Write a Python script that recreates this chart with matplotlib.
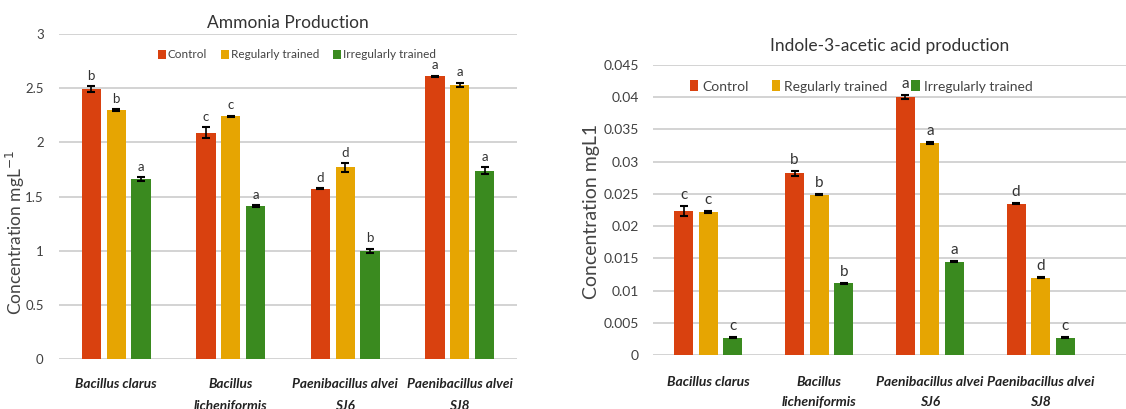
import numpy as np
import matplotlib
matplotlib.use("Agg")
import matplotlib.pyplot as plt

plt.rcParams['font.family'] = ['Lato', 'DejaVu Sans']

strains = ['Bacillus clarus', 'Bacillus\nlicheniformis',
           'Paenibacillus alvei\nSJ6', 'Paenibacillus alvei\nSJ8']
series = ['Control', 'Regularly trained', 'Irregularly trained']
colors = ['#d9410f', '#e6a502', '#3a8a1f']

# ammonia production (mg/L)
nh3_control = [2.49, 2.09, 1.57, 2.61]
nh3_regular = [2.30, 2.24, 1.77, 2.53]
nh3_irregular = [1.66, 1.41, 1.00, 1.74]
nh3_err_control = [0.03, 0.05, 0.005, 0.005]
nh3_err_regular = [0.008, 0.005, 0.04, 0.02]
nh3_err_irregular = [0.02, 0.008, 0.02, 0.03]
nh3_letters_control = ['b', 'c', 'd', 'a']
nh3_letters_regular = ['b', 'c', 'd', 'a']
nh3_letters_irregular = ['a', 'a', 'b', 'a']
nh3_ticks = ['0', '0.5', '1', '1.5', '2', '2.5', '3']

# IAA production
iaa_control = [0.0223, 0.0282, 0.0400, 0.0235]
iaa_regular = [0.0222, 0.0249, 0.0329, 0.0120]
iaa_irregular = [0.0027, 0.0111, 0.0145, 0.0027]
iaa_err_control = [0.0008, 0.0004, 0.0003, 0.0001]
iaa_err_regular = [0.0001, 0.0001, 0.0001, 0.0001]
iaa_err_irregular = [0.0001, 0.0001, 0.0001, 0.0001]
iaa_letters_control = ['c', 'b', 'a', 'd']
iaa_letters_regular = ['c', 'b', 'a', 'd']
iaa_letters_irregular = ['c', 'b', 'a', 'c']
iaa_ticks = ['0', '0.005', '0.01', '0.015', '0.02', '0.025', '0.03', '0.035', '0.04', '0.045']

fig = plt.figure(figsize=(11.26, 4.09), dpi=100)


def draw(ax, vals, errs, letters, ymax, ystep, ticklabels, pad, width, step, fs_let):
    x = np.arange(len(strains))
    for i in range(3):
        pos = x + (i - 1) * step
        ax.bar(pos, vals[i], width, color=colors[i], label=series[i], zorder=3)
        ax.errorbar(pos, vals[i], yerr=errs[i], fmt='none', ecolor='black',
                    elinewidth=1.2, capsize=3, capthick=1.5, zorder=4)
        for p, v, e, t in zip(pos, vals[i], errs[i], letters[i]):
            ax.text(p, v + e + pad, t, ha='center', va='bottom', fontsize=fs_let, color='#333333')
    ax.set_ylim(0, ymax)
    ax.set_yticks(np.arange(0, ymax + ystep / 2, ystep))
    ax.set_yticklabels(ticklabels)
    ax.yaxis.grid(True, color='#d0d0d0', linewidth=1.3, zorder=0)
    for s in ax.spines.values():
        s.set_visible(False)
    ax.tick_params(length=0)
    ax.set_xticks(x)
    ax.tick_params(axis='y', labelcolor='#404040')


ax1 = fig.add_axes([59 / 1126, 50 / 409, 458 / 1126, 325 / 409])
draw(ax1, [nh3_control, nh3_regular, nh3_irregular],
     [nh3_err_control, nh3_err_regular, nh3_err_irregular],
     [nh3_letters_control, nh3_letters_regular, nh3_letters_irregular],
     3, 0.5, nh3_ticks, 0.04, 0.17, 0.218, 9.5)
ax1.set_xlim(-0.5, 3.5)
ax1.set_xticklabels(strains, fontstyle='italic', fontweight='bold', fontsize=9.8,
                    color='#222222', linespacing=2.0)
ax1.tick_params(axis='y', labelsize=9.5, pad=11)
ax1.tick_params(axis='x', pad=14)
fig.text(15 / 1126, (409 - 232) / 409, 'Concentration mgL$^{-1}$', rotation=90,
         ha='center', va='center', fontsize=12.5, color='#444444')
ax1.set_title('Ammonia Production', fontsize=12.5, color='#333333', pad=4)
ax1.legend(loc='upper center', bbox_to_anchor=(0.52, 0.985), ncol=3, frameon=False,
           fontsize=8.5, handlelength=0.6, handleheight=0.7, handletextpad=0.2,
           columnspacing=1.2, labelcolor='#444444')

ax2 = fig.add_axes([653 / 1126, 54 / 409, 473 / 1126, 290 / 409])
draw(ax2, [iaa_control, iaa_regular, iaa_irregular],
     [iaa_err_control, iaa_err_regular, iaa_err_irregular],
     [iaa_letters_control, iaa_letters_regular, iaa_letters_irregular],
     0.045, 0.005, iaa_ticks, 0.0006, 0.172, 0.222, 11)
ax2.set_xlim(-0.5, 3.5 + 30 / 110.7)
ax2.set_xticklabels(strains, fontstyle='italic', fontweight='bold', fontsize=10,
                    color='#222222', linespacing=1.8)
ax2.tick_params(axis='y', labelsize=10, pad=10)
ax2.tick_params(axis='x', pad=15)
fig.text(592 / 1126, (409 - 211) / 409, 'Concentration mgL1', rotation=90,
         ha='center', va='center', fontsize=14, color='#444444')
ax2.set_title('Indole-3-acetic acid production', fontsize=12.5, color='#333333', pad=10)
ax2.legend(loc='upper center', bbox_to_anchor=(0.44, 0.99), ncol=3, frameon=False,
           fontsize=10, handlelength=0.6, handleheight=0.8, handletextpad=0.3,
           columnspacing=1.7, labelcolor='#444444')

fig.savefig('out.png', dpi=100)
